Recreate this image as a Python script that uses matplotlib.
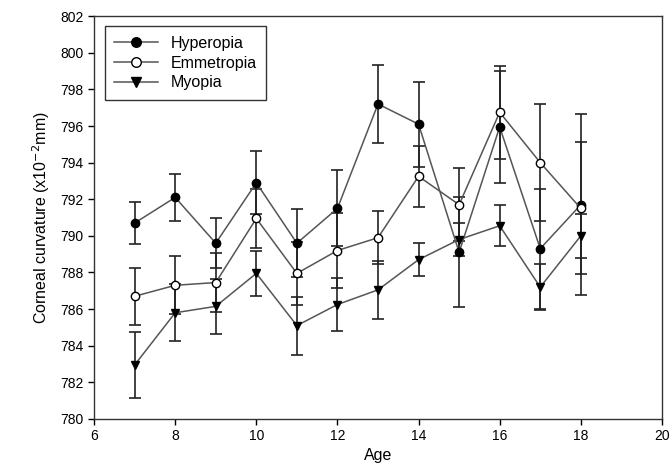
import matplotlib
matplotlib.use("Agg")
import matplotlib.pyplot as plt

plt.rcParams["font.family"] = ["Liberation Sans", "DejaVu Sans"]

ages = [7, 8, 9, 10, 11, 12, 13, 14, 15, 16, 17, 18]

hyperopia = [790.7, 792.1, 789.6, 792.9, 789.6, 791.5, 797.2, 796.1, 789.1, 795.95, 789.3, 791.7]
hyperopia_err = [1.15, 1.3, 1.35, 1.73, 1.86, 2.07, 2.12, 2.33, 3.0, 3.05, 3.28, 4.95]

emmetropia = [786.7, 787.3, 787.45, 790.95, 787.95, 789.2, 789.9, 793.25, 791.7, 796.75, 794.0, 791.5]
emmetropia_err = [1.55, 1.58, 1.6, 1.62, 1.73, 2.05, 1.45, 1.67, 2.0, 2.55, 3.2, 3.6]

myopia = [782.95, 785.8, 786.15, 787.95, 785.1, 786.25, 787.05, 788.7, 789.8, 790.55, 787.2, 790.0]
myopia_err = [1.8, 1.56, 1.5, 1.23, 1.58, 1.46, 1.58, 0.91, 0.88, 1.13, 1.25, 1.2]

series = [
    ("Hyperopia", hyperopia, hyperopia_err, "o", "black"),
    ("Emmetropia", emmetropia, emmetropia_err, "o", "white"),
    ("Myopia", myopia, myopia_err, "v", "black"),
]

fig = plt.figure(figsize=(6.72, 4.75), dpi=100)
ax = fig.add_axes([0.14, 0.118, 0.845, 0.848])

for label, vals, errs, marker, face in series:
    ax.errorbar(ages, vals, yerr=errs, fmt="none", ecolor="#222222",
                elinewidth=1.2, capsize=4.5, capthick=1.2, zorder=2)
    ax.plot(ages, vals, color="#555555", lw=1.1, marker=marker, markersize=6,
            markerfacecolor=face, markeredgecolor="black", markeredgewidth=1.0,
            label=label, zorder=3)

ax.set_xlim(6, 20)
ax.set_ylim(780, 802)
ax.set_xticks(range(6, 21, 2))
ax.set_yticks(range(780, 803, 2))
ax.tick_params(direction="out", length=4, width=1, labelsize=10, colors="black")
for sp in ax.spines.values():
    sp.set_linewidth(1.0)
    sp.set_color("#333333")

ax.set_xlabel("Age", fontsize=11.5, labelpad=3)
ax.set_ylabel("Corneal curvature (x10$^{-2}$mm)", fontsize=11.5, labelpad=6)

leg = ax.legend(loc="upper left", fontsize=11.5, frameon=True, fancybox=False,
                edgecolor="black", handlelength=2.7, handletextpad=0.8,
                borderpad=0.6, labelspacing=0.3, markerscale=1.15,
                bbox_to_anchor=(0.005, 0.995))
leg.get_frame().set_linewidth(1.0)

fig.savefig("out.png", dpi=100)
